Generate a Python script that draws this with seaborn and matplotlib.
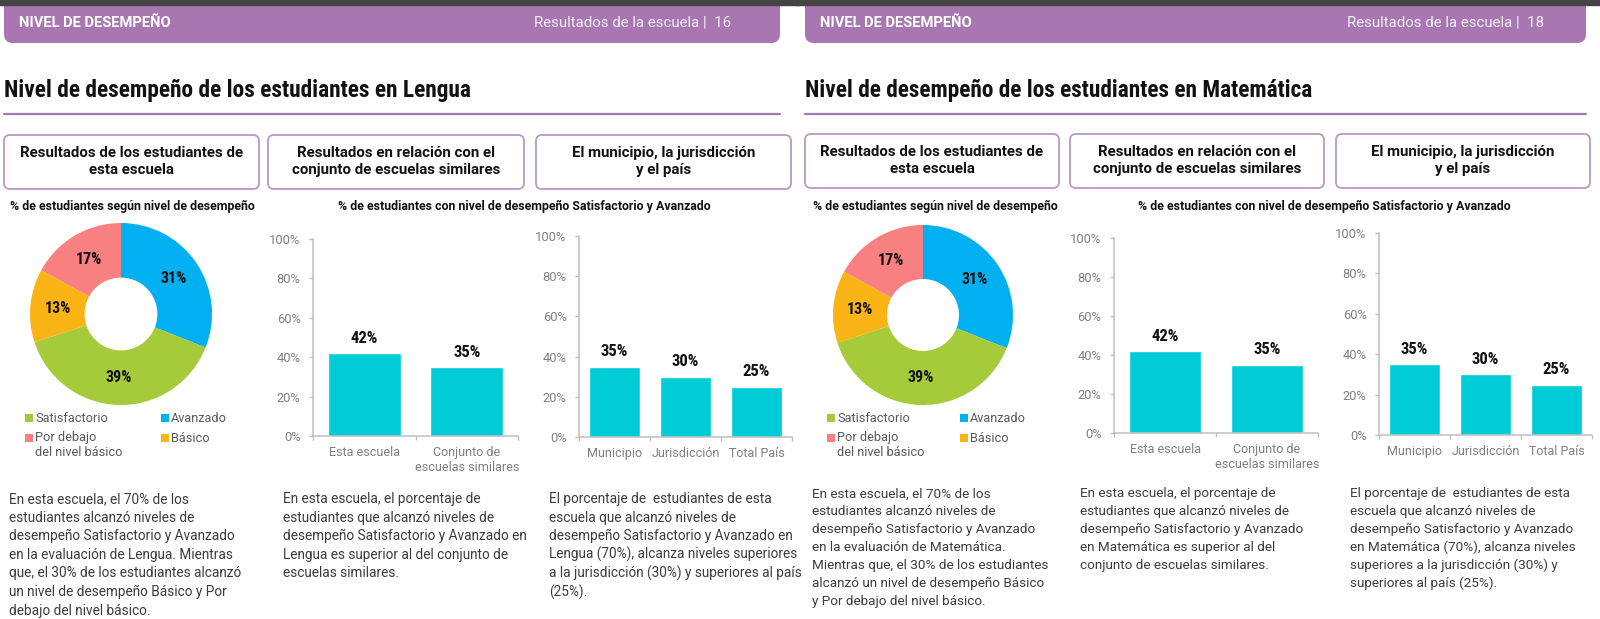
import matplotlib
matplotlib.use("Agg")
import matplotlib.pyplot as plt
from matplotlib import font_manager as fm
from matplotlib.patches import FancyBboxPatch, Rectangle
import seaborn as sns
import pandas as pd

# ---------------- data ----------------
donut_labels = ["Avanzado", "Satisfactorio", "Básico", "Por debajo\ndel nivel básico"]
donut_lengua = [31, 39, 13, 17]
donut_mate = [31, 39, 13, 17]

similares_cats = ["Esta escuela", "Conjunto de\nescuelas similares"]
similares_lengua = [42, 35]
similares_mate = [42, 35]

territorio_cats = ["Municipio", "Jurisdicción", "Total País"]
territorio_lengua = [35, 30, 25]
territorio_mate = [35, 30, 25]

ytick_values = [0, 20, 40, 60, 80, 100]

titles = ["Nivel de desempeño de los estudiantes en Lengua",
          "Nivel de desempeño de los estudiantes en Matemática"]
page_numbers = ["16", "18"]
box_texts = ["Resultados de los estudiantes de\nesta escuela",
             "Resultados en relación con el\nconjunto de escuelas similares",
             "El municipio, la jurisdicción\ny el país"]
subtitle_donut = "% de estudiantes según nivel de desempeño"
subtitle_bars = "% de estudiantes con nivel de desempeño Satisfactorio y Avanzado"

body_lengua = [
    ["En esta escuela, el 70% de los", "estudiantes alcanzó niveles de",
     "desempeño Satisfactorio y Avanzado", "en la evaluación de Lengua. Mientras",
     "que, el 30% de los estudiantes alcanzó", "un nivel de desempeño Básico y Por",
     "debajo del nivel básico."],
    ["En esta escuela, el porcentaje de", "estudiantes que alcanzó niveles de",
     "desempeño Satisfactorio y Avanzado en", "Lengua es superior al del conjunto de",
     "escuelas similares."],
    ["El porcentaje de  estudiantes de esta", "escuela que alcanzó niveles de",
     "desempeño Satisfactorio y Avanzado en", "Lengua (70%), alcanza niveles superiores",
     "a la jurisdicción (30%) y superiores al país", "(25%)."],
]
body_mate = [
    ["En esta escuela, el 70% de los", "estudiantes alcanzó niveles de",
     "desempeño Satisfactorio y Avanzado", "en la evaluación de Matemática.",
     "Mientras que, el 30% de los estudiantes", "alcanzó un nivel de desempeño Básico",
     "y Por debajo del nivel básico."],
    ["En esta escuela, el porcentaje de", "estudiantes que alcanzó niveles de",
     "desempeño Satisfactorio y Avanzado", "en Matemática es superior al del",
     "conjunto de escuelas similares."],
    ["El porcentaje de  estudiantes de esta", "escuela que alcanzó niveles de",
     "desempeño Satisfactorio y Avanzado", "en Matemática (70%), alcanza niveles",
     "superiores a la jurisdicción (30%) y", "superiores al país (25%)."],
]

# ---------------- styles ----------------
PURPLE = "#a877b1"
PURPLE_LINE = "#a07aae"
BOX_EDGE = "#b999c5"
CYAN = "#00ccd8"
DONUT_COLORS = ["#00b0f0", "#a6cb3a", "#fbb416", "#f88080"]
GRAY_AX = "#bfbfbf"
GRAY_TXT = "#7f7f7f"

sns.set_theme(style="white")
names = {f.name for f in fm.fontManager.ttflist}
COND = None
COND_STRETCH = "normal"
for cand in ["Roboto Condensed", "Liberation Sans Narrow", "Open Sans Condensed"]:
    if cand in names:
        COND = cand
        break
if COND is None:
    if any(f.name == "DejaVu Sans" and str(f.stretch) == "condensed" for f in fm.fontManager.ttflist):
        COND, COND_STRETCH = "DejaVu Sans", "condensed"
    else:
        COND = "Roboto"
BODY = "Roboto" if "Roboto" in names else "DejaVu Sans"
plt.rcParams["font.family"] = [BODY, "DejaVu Sans"]

W, H = 1600, 619
fig = plt.figure(figsize=(16, 6.19), dpi=100)
bg = fig.add_axes([0, 0, 1, 1])
bg.set_xlim(0, W)
bg.set_ylim(H, 0)
bg.axis("off")
renderer = fig.canvas.get_renderer()


def fit_width(t, target):
    w = t.get_window_extent(renderer).width
    t.set_fontsize(t.get_fontsize() * target / w)


def bar_panel(px, cats, vals):
    x0, x1, y0, y1 = px
    ax = fig.add_axes([x0 / W, 1 - y0 / H, (x1 - x0) / W, (y0 - y1) / H])
    ax.set_facecolor("none")
    df = pd.DataFrame({"cat": cats, "val": vals})
    sns.barplot(data=df, x="cat", y="val", ax=ax, color=CYAN, saturation=1,
                width=0.71, errorbar=None)
    n = len(cats)
    ax.set_xlim(-0.5, n - 0.5)
    ax.set_ylim(0, 100)
    ax.set_yticks(ytick_values)
    ax.set_yticklabels([f"{v}%" for v in ytick_values])
    ax.set_xticks([i - 0.5 for i in range(n + 1)], minor=True)
    ax.set_xlabel("")
    ax.set_ylabel("")
    sns.despine(ax=ax)
    for s in ("left", "bottom"):
        ax.spines[s].set_color(GRAY_AX)
        ax.spines[s].set_linewidth(1.1)
    ax.tick_params(axis="y", which="major", length=3, width=1, color=GRAY_AX,
                   labelsize=9.3, labelcolor=GRAY_TXT, pad=6, left=True)
    ax.tick_params(axis="x", which="major", length=0, labelsize=9,
                   labelcolor=GRAY_TXT, pad=7)
    ax.tick_params(axis="x", which="minor", length=3, width=1, color=GRAY_AX,
                   bottom=True)
    for p, v in zip(ax.patches, vals):
        ax.annotate(f"{v}%", (p.get_x() + p.get_width() / 2, p.get_height()),
                    xytext=(0, 10.8), textcoords="offset points", ha="center",
                    va="center", fontsize=12, fontweight="bold", family=COND,
                    fontstretch=COND_STRETCH, color="#111111")
    return ax


def donut(center, r, vals):
    cx, cy = center
    ax = fig.add_axes([(cx - r) / W, 1 - (cy + r) / H, 2 * r / W, 2 * r / H])
    ax.pie(vals, colors=DONUT_COLORS, startangle=90, counterclock=False,
           wedgeprops=dict(width=0.6, linewidth=0),
           autopct=lambda p: f"{p:.0f}%", pctdistance=0.70,
           textprops=dict(fontsize=11.5, fontweight="bold", family=COND,
                          fontstretch=COND_STRETCH, color="#111111"))
    ax.set_xlim(-1, 1)
    ax.set_ylim(-1, 1)
    ax.set_aspect("equal")


def page(L, title, pnum, dvals, svals, tvals, body):
    # dark strip at very top
    bg.add_patch(Rectangle((L["hx"][0] - 10, 0), L["hx"][1] - L["hx"][0] + 30, 5,
                           color="#444444", zorder=3))
    # header bar
    hx0, hx1 = L["hx"]
    bg.add_patch(FancyBboxPatch((hx0, -30), hx1 - hx0, 73,
                                boxstyle="round,pad=0,rounding_size=9",
                                fc=PURPLE, ec="none", zorder=2))
    bg.text(hx0 + 15, 23, "NIVEL DE DESEMPEÑO", color="white", fontsize=10.6,
            fontweight="bold", va="center", ha="left", zorder=4)
    bg.text(L["pnx"], 23, f"Resultados de la escuela |  {pnum}", color="#f4eef6",
            fontsize=10.8, va="center", ha="right", zorder=4)
    # title
    t = bg.text(hx0, 97, title, fontsize=17, fontweight="bold", family=COND,
                fontstretch=COND_STRETCH, color="#111111", va="baseline", ha="left")
    fit_width(t, L["tw"])
    bg.plot([hx0, hx1], [L["ly"], L["ly"]], color=PURPLE_LINE, lw=1.6)
    # boxes
    by0, by1 = L["by"]
    for (bx0, bx1), txt in zip(L["boxes"], box_texts):
        bg.add_patch(FancyBboxPatch((bx0, by0), bx1 - bx0, by1 - by0,
                                    boxstyle="round,pad=0,rounding_size=6",
                                    fc="white", ec=BOX_EDGE, lw=1.3))
        bg.text((bx0 + bx1) / 2, (by0 + by1) / 2 - 0.5, txt, ha="center", va="center",
                fontsize=10.8, fontweight="bold", color="#111111", linespacing=1.25)
    # subtitles
    bg.text(L["s1x"], 206, subtitle_donut, fontsize=8.9, fontweight="bold",
            color="#111111", ha="left", va="center")
    bg.text(L["s2x"], 206, subtitle_bars, fontsize=8.9, fontweight="bold",
            color="#111111", ha="center", va="center")
    # donut + legend
    donut(L["dc"], L["dr"], dvals)
    lx1, lx2 = L["legx"]
    legend_items = [(lx1, 418, 1), (lx2, 418, 0), (lx1, 438, 3), (lx2, 438, 2)]
    for x, y, i in legend_items:
        bg.add_patch(Rectangle((x, y - 4), 8, 8, color=DONUT_COLORS[i], lw=0))
        lines = donut_labels[i].split("\n")
        for k, ln in enumerate(lines):
            bg.text(x + 10, y + 15 * k, ln, fontsize=9.2, color="#595959",
                    ha="left", va="center")
    # bar charts
    bar_panel(L["c1"], similares_cats, svals)
    bar_panel(L["c2"], territorio_cats, tvals)
    # body text
    for cx, lines in zip(L["colx"], body):
        for k, ln in enumerate(lines):
            bg.text(cx, L["body_y"] + L["body_dy"] * k, ln, fontsize=L["body_fs"],
                    color="#3c3c3c", ha="left", va="center")


LEFT = dict(hx=(4, 780), pnx=731, tw=468, ly=114, by=(135, 189),
            boxes=[(4, 259), (268, 524), (536, 791)],
            s1x=10, s2x=524, dc=(121, 314), dr=91, legx=(25, 161),
            c1=(313, 518, 436, 239), c2=(579, 792, 437, 236),
            colx=(9, 283, 549), body_y=499, body_dy=18.6, body_fs=9.8)
RIGHT = dict(hx=(805, 1586), pnx=1544, tw=507, ly=114, by=(134, 188),
             boxes=[(805, 1059), (1070, 1324), (1336, 1590)],
             s1x=813, s2x=1324, dc=(923, 315), dr=90, legx=(827, 960),
             c1=(1114, 1318, 433, 238), c2=(1379, 1592, 435, 233),
             colx=(812, 1080, 1350), body_y=494, body_dy=17.9, body_fs=9.7)

page(LEFT, titles[0], page_numbers[0], donut_lengua, similares_lengua,
     territorio_lengua, body_lengua)
page(RIGHT, titles[1], page_numbers[1], donut_mate, similares_mate,
     territorio_mate, body_mate)

fig.savefig("out.png", dpi=100)
